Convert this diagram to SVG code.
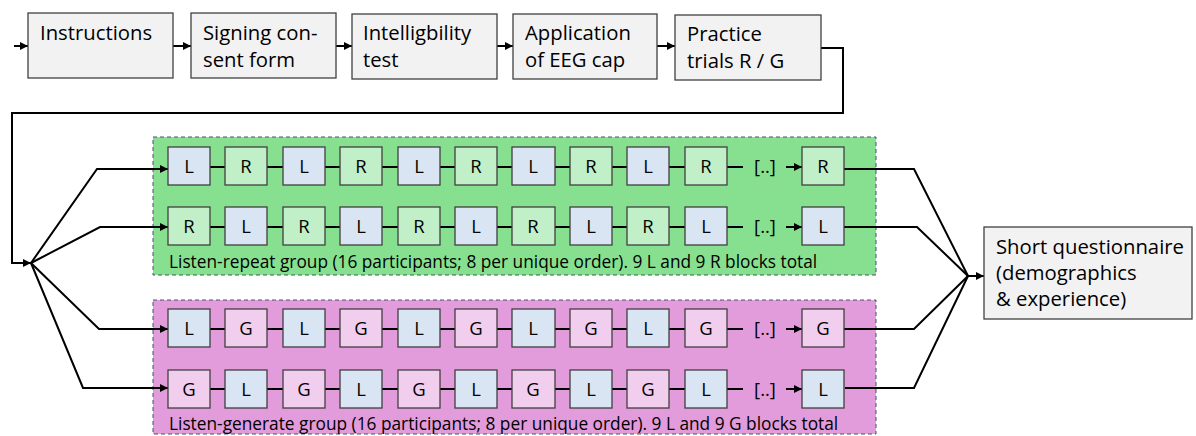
<svg xmlns="http://www.w3.org/2000/svg" width="1196" height="436" viewBox="0 0 1196 436">
  <defs>
    <marker id="ahs" viewBox="0 0 10 10" refX="10" refY="5" markerWidth="8" markerHeight="8" markerUnits="userSpaceOnUse" orient="auto">
      <path d="M0,0 L10,5 L0,10 z" fill="#000"/>
    </marker>
  </defs>
  <style>
    text { font-family: "Open Sans", "Liberation Sans", sans-serif; fill: #000; }
    .step { fill: #f2f2f2; stroke: #404040; stroke-width: 1.3; }
    .st { font-size: 20.3px; }
    .blk { stroke: #404040; stroke-width: 1.3; }
    .L { fill: #dae5f3; }
    .R { fill: #c1f0c8; }
    .G { fill: #f2ceee; }
    .bt { font-size: 18.5px; text-anchor: middle; }
    .grp { stroke: #44546a; stroke-width: 1; stroke-dasharray: 4 3; }
    .gl { font-size: 17.3px; }
    .wire { fill: none; stroke: #000; stroke-width: 2; }
    .sa { fill: none; stroke: #000; stroke-width: 2; marker-end: url(#ahs); }
  </style>

  <!-- Group panels -->
  <g id="repeat-group">
    <rect class="grp" x="153" y="137" width="723" height="138" fill="#87e08f"/>
    <text class="gl" x="169" y="268">Listen-repeat group (16 participants; 8 per unique order). 9 L and 9 R blocks total</text>
  </g>
  <g id="generate-group">
    <rect class="grp" x="153" y="300" width="723" height="134" fill="#e29bdb"/>
    <text class="gl" x="169" y="430">Listen-generate group (16 participants; 8 per unique order). 9 L and 9 G blocks total</text>
  </g>

  <!-- Connectors -->
  <g id="connectors">
    <line class="sa" x1="14" y1="46" x2="28" y2="46"/>
    <line class="sa" x1="173" y1="46" x2="191" y2="46"/>
    <line class="sa" x1="336" y1="46" x2="352" y2="46"/>
    <line class="sa" x1="497" y1="46" x2="513" y2="46"/>
    <line class="sa" x1="657" y1="46" x2="675" y2="46"/>
    <polyline class="sa" points="821,48 843,48 843,113 12,113 12,263 31,263"/>
    <!-- fan out to the four orders -->
    <polyline class="sa" points="31,263 97,169 168,169"/>
    <polyline class="sa" points="31,263 100,227 168,227"/>
    <polyline class="sa" points="31,263 99,329 168,329"/>
    <polyline class="sa" points="31,263 83,388 168,388"/>
    <!-- fan in to questionnaire -->
    <polyline class="wire" points="844,169 914,169 968,276"/>
    <polyline class="wire" points="844,227 917,227 968,276"/>
    <polyline class="wire" points="844,329 914,329 968,276"/>
    <polyline class="wire" points="845,388 914,388 968,276"/>
    <line class="sa" x1="966" y1="276" x2="984" y2="276"/>

    <!-- links between blocks -->
    <g id="chain-arrows">
      <path class="sa" d="M210,167H225 M267,167H283 M325,167H340 M382,167H398 M440,167H455 M497,167H512 M555,167H570 M612,167H627 M669,167H685 M727,167H743 M786,167H802"/>
      <path class="sa" d="M210,227H225 M267,227H283 M325,227H340 M382,227H398 M440,227H455 M497,227H512 M555,227H570 M612,227H627 M669,227H685 M727,227H743 M786,227H802"/>
      <path class="sa" d="M210,329H225 M267,329H283 M325,329H340 M382,329H398 M440,329H455 M497,329H512 M555,329H570 M612,329H627 M669,329H685 M727,329H743 M786,329H802"/>
      <path class="sa" d="M210,389H225 M267,389H283 M325,389H340 M382,389H398 M440,389H455 M497,389H512 M555,389H570 M612,389H627 M669,389H685 M727,389H743 M786,389H802"/>
    </g>
  </g>

  <!-- Procedure steps -->
  <g id="instructions">
    <rect class="step" x="28" y="13" width="145" height="65"/>
    <text class="st" x="40" y="40">Instructions</text>
  </g>
  <g id="consent">
    <rect class="step" x="191" y="13" width="145" height="65"/>
    <text class="st" x="203" y="40">Signing con-</text>
    <text class="st" x="203" y="67">sent form</text>
  </g>
  <g id="intelligibility">
    <rect class="step" x="352" y="14" width="145" height="65"/>
    <text class="st" x="363" y="40">Intelligbility</text>
    <text class="st" x="363" y="67">test</text>
  </g>
  <g id="eeg-cap">
    <rect class="step" x="513" y="14" width="144" height="65"/>
    <text class="st" x="525" y="40">Application</text>
    <text class="st" x="525" y="67">of EEG cap</text>
  </g>
  <g id="practice">
    <rect class="step" x="675" y="15" width="146" height="65"/>
    <text class="st" x="687" y="41">Practice</text>
    <text class="st" x="687" y="68">trials R / G</text>
  </g>

  <!-- Blocks: repeat group, order 1 -->
  <g id="row-rep-1">
    <rect class="blk L" x="168" y="147" width="42" height="38"/><text class="bt" x="189" y="173">L</text>
    <rect class="blk R" x="225" y="147" width="42" height="38"/><text class="bt" x="246" y="173">R</text>
    <rect class="blk L" x="283" y="147" width="42" height="38"/><text class="bt" x="304" y="173">L</text>
    <rect class="blk R" x="340" y="147" width="42" height="38"/><text class="bt" x="361" y="173">R</text>
    <rect class="blk L" x="398" y="147" width="42" height="38"/><text class="bt" x="419" y="173">L</text>
    <rect class="blk R" x="455" y="147" width="42" height="38"/><text class="bt" x="476" y="173">R</text>
    <rect class="blk L" x="512" y="147" width="43" height="38"/><text class="bt" x="533" y="173">L</text>
    <rect class="blk R" x="570" y="147" width="42" height="38"/><text class="bt" x="591" y="173">R</text>
    <rect class="blk L" x="627" y="147" width="42" height="38"/><text class="bt" x="648" y="173">L</text>
    <rect class="blk R" x="685" y="147" width="42" height="38"/><text class="bt" x="706" y="173">R</text>
    <text class="bt" x="765" y="173">[..]</text>
    <rect class="blk R" x="802" y="147" width="42" height="38"/><text class="bt" x="823" y="173">R</text>
  </g>
  <!-- Blocks: repeat group, order 2 -->
  <g id="row-rep-2">
    <rect class="blk R" x="168" y="207" width="42" height="38"/><text class="bt" x="189" y="233">R</text>
    <rect class="blk L" x="225" y="207" width="42" height="38"/><text class="bt" x="246" y="233">L</text>
    <rect class="blk R" x="283" y="207" width="42" height="38"/><text class="bt" x="304" y="233">R</text>
    <rect class="blk L" x="340" y="207" width="42" height="38"/><text class="bt" x="361" y="233">L</text>
    <rect class="blk R" x="398" y="207" width="42" height="38"/><text class="bt" x="419" y="233">R</text>
    <rect class="blk L" x="455" y="207" width="42" height="38"/><text class="bt" x="476" y="233">L</text>
    <rect class="blk R" x="512" y="207" width="43" height="38"/><text class="bt" x="533" y="233">R</text>
    <rect class="blk L" x="570" y="207" width="42" height="38"/><text class="bt" x="591" y="233">L</text>
    <rect class="blk R" x="627" y="207" width="42" height="38"/><text class="bt" x="648" y="233">R</text>
    <rect class="blk L" x="685" y="207" width="42" height="38"/><text class="bt" x="706" y="233">L</text>
    <text class="bt" x="765" y="233">[..]</text>
    <rect class="blk L" x="802" y="207" width="42" height="38"/><text class="bt" x="823" y="233">L</text>
  </g>
  <!-- Blocks: generate group, order 1 -->
  <g id="row-gen-1">
    <rect class="blk L" x="168" y="309" width="42" height="38"/><text class="bt" x="189" y="335">L</text>
    <rect class="blk G" x="225" y="309" width="42" height="38"/><text class="bt" x="246" y="335">G</text>
    <rect class="blk L" x="283" y="309" width="42" height="38"/><text class="bt" x="304" y="335">L</text>
    <rect class="blk G" x="340" y="309" width="42" height="38"/><text class="bt" x="361" y="335">G</text>
    <rect class="blk L" x="398" y="309" width="42" height="38"/><text class="bt" x="419" y="335">L</text>
    <rect class="blk G" x="455" y="309" width="42" height="38"/><text class="bt" x="476" y="335">G</text>
    <rect class="blk L" x="512" y="309" width="43" height="38"/><text class="bt" x="533" y="335">L</text>
    <rect class="blk G" x="570" y="309" width="42" height="38"/><text class="bt" x="591" y="335">G</text>
    <rect class="blk L" x="627" y="309" width="42" height="38"/><text class="bt" x="648" y="335">L</text>
    <rect class="blk G" x="685" y="309" width="42" height="38"/><text class="bt" x="706" y="335">G</text>
    <text class="bt" x="765" y="335">[..]</text>
    <rect class="blk G" x="802" y="309" width="42" height="38"/><text class="bt" x="823" y="335">G</text>
  </g>
  <!-- Blocks: generate group, order 2 -->
  <g id="row-gen-2">
    <rect class="blk G" x="168" y="370" width="42" height="38"/><text class="bt" x="189" y="396">G</text>
    <rect class="blk L" x="225" y="370" width="42" height="38"/><text class="bt" x="246" y="396">L</text>
    <rect class="blk G" x="283" y="370" width="42" height="38"/><text class="bt" x="304" y="396">G</text>
    <rect class="blk L" x="340" y="370" width="42" height="38"/><text class="bt" x="361" y="396">L</text>
    <rect class="blk G" x="398" y="370" width="42" height="38"/><text class="bt" x="419" y="396">G</text>
    <rect class="blk L" x="455" y="370" width="42" height="38"/><text class="bt" x="476" y="396">L</text>
    <rect class="blk G" x="512" y="370" width="43" height="38"/><text class="bt" x="533" y="396">G</text>
    <rect class="blk L" x="570" y="370" width="42" height="38"/><text class="bt" x="591" y="396">L</text>
    <rect class="blk G" x="627" y="370" width="42" height="38"/><text class="bt" x="648" y="396">G</text>
    <rect class="blk L" x="685" y="370" width="42" height="38"/><text class="bt" x="706" y="396">L</text>
    <text class="bt" x="765" y="396">[..]</text>
    <rect class="blk L" x="802" y="370" width="42" height="38"/><text class="bt" x="823" y="396">L</text>
  </g>

  <!-- Final step -->
  <g id="questionnaire">
    <rect class="step" x="984" y="227" width="208" height="92"/>
    <text class="st" x="996" y="254">Short questionnaire</text>
    <text class="st" x="996" y="280">(demographics</text>
    <text class="st" x="996" y="306">&amp; experience)</text>
  </g>
</svg>
